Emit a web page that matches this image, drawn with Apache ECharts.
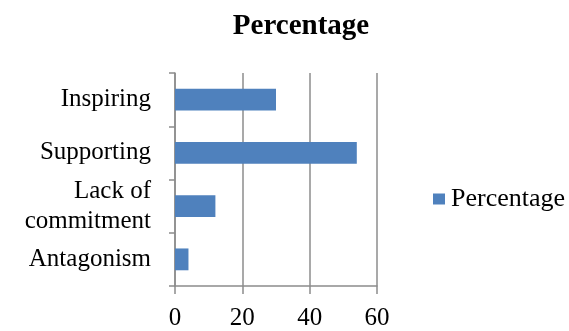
<!DOCTYPE html>
<html>
<head>
<meta charset="utf-8">
<script src="https://cdn.jsdelivr.net/npm/echarts@6/dist/echarts.min.js"></script>
<style>
  html, body { margin: 0; padding: 0; background: #fff; }
  #chart { width: 569px; height: 331px; }
</style>
</head>
<body>
<div id="chart"></div>
<script>
// Categories, top to bottom
const categories = ['Inspiring', 'Supporting', 'Lack of\ncommitment', 'Antagonism'];
// Percentage per category
const percentages = [30, 54, 12, 4];
// Value axis ticks
const axisMin = 0;
const axisMax = 60;
const axisStep = 20;

const serif = '"Liberation Serif", "Times New Roman", serif';
const gray = '#8c8c8c';

const chart = echarts.init(document.getElementById('chart'), null, { renderer: 'canvas' });
chart.setOption({
  animation: false,
  title: {
    text: 'Percentage',
    left: 296,
    top: 7,
    textAlign: 'center',
    textStyle: { fontFamily: serif, fontSize: 29, fontWeight: 'bold', color: '#000' }
  },
  legend: {
    left: 428,
    top: 181,
    itemWidth: 12,
    itemHeight: 11,
    itemGap: 8,
    icon: 'rect',
    textStyle: { fontFamily: serif, fontSize: 26, color: '#000', padding: [0, 0, 0, 1] },
    data: ['Percentage']
  },
  grid: { left: 175, right: 192, top: 73, bottom: 42, containLabel: false },
  xAxis: {
    type: 'value',
    min: axisMin,
    max: axisMax,
    interval: axisStep,
    axisLine: { show: true, lineStyle: { color: gray, width: 1.5 } },
    axisTick: { show: true, length: 8, lineStyle: { color: gray, width: 1.5 } },
    splitLine: { show: true, lineStyle: { color: gray, width: 1.5 } },
    axisLabel: { fontFamily: serif, fontSize: 25, color: '#000', margin: 20 }
  },
  yAxis: {
    type: 'category',
    inverse: true,
    data: categories,
    axisLine: { show: true, lineStyle: { color: gray, width: 1.5 } },
    axisTick: { show: true, length: 6, alignWithLabel: false, lineStyle: { color: gray, width: 1.5 } },
    axisLabel: { fontFamily: serif, fontSize: 25, color: '#000', margin: 24, lineHeight: 30, align: 'right' }
  },
  series: [{
    name: 'Percentage',
    type: 'bar',
    data: percentages,
    barWidth: '41%',
    itemStyle: { color: '#4f81bd' }
  }]
});
</script>
</body>
</html>
